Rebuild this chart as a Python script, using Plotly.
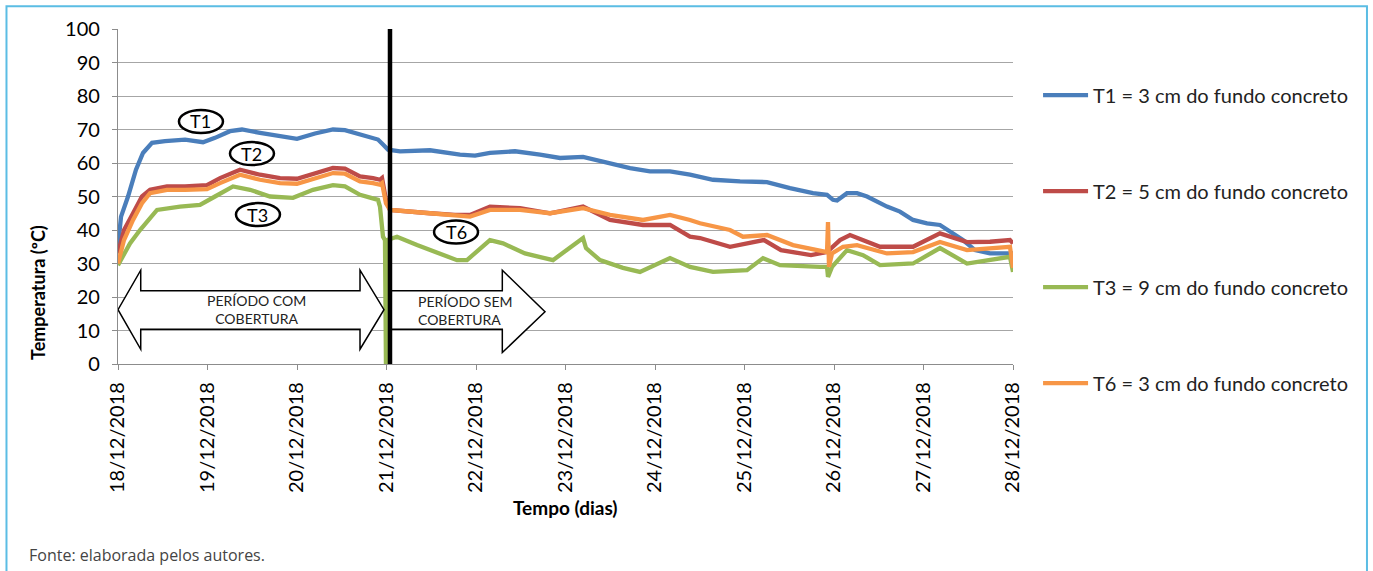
import plotly.graph_objects as go

# ---------------- data (days since 18/12/2018 00:00, temperature ºC) ----------------
date_labels = ["18/12/2018", "19/12/2018", "20/12/2018", "21/12/2018", "22/12/2018",
               "23/12/2018", "24/12/2018", "25/12/2018", "26/12/2018", "27/12/2018", "28/12/2018"]
y_ticks = [0, 10, 20, 30, 40, 50, 60, 70, 80, 90, 100]

t1_days = [0.0, 0.034, 0.112, 0.201, 0.279, 0.380, 0.525, 0.749, 0.950, 1.084, 1.251, 1.385,
           1.587, 1.810, 2.000, 2.201, 2.402, 2.536, 2.704, 2.905, 2.961, 3.017, 3.151, 3.486,
           3.821, 3.989, 4.156, 4.436, 4.715, 4.939, 5.196, 5.385, 5.721, 5.944, 6.168, 6.391,
           6.648, 6.950, 7.251, 7.508, 7.765, 7.922, 7.989, 8.034, 8.145, 8.257, 8.369, 8.592,
           8.737, 8.883, 9.039, 9.184, 9.318, 9.441, 9.575, 9.743, 10.0]
t1_vals = [35, 44, 50, 58, 63, 66, 66.5, 67, 66.2, 67.5, 69.5, 70,
           69, 68, 67.2, 68.8, 70, 69.8, 68.5, 67, 65.5, 64, 63.5, 63.8,
           62.5, 62.2, 63, 63.5, 62.5, 61.5, 61.8, 60.5, 58.5, 57.5, 57.5, 56.5,
           55, 54.5, 54.3, 52.5, 51, 50.5, 49, 48.8, 51, 51, 50, 47,
           45.5, 43, 42, 41.5, 39, 37, 34, 33, 33]

t2_days = [0.0, 0.067, 0.168, 0.268, 0.358, 0.547, 0.749, 0.994, 1.140, 1.363, 1.587, 1.810,
           2.000, 2.201, 2.402, 2.536, 2.704, 2.849, 2.927, 2.950, 2.994, 3.039, 3.151, 3.486,
           3.765, 3.933, 4.156, 4.492, 4.827, 5.196, 5.497, 5.866, 6.168, 6.391, 6.503, 6.838,
           7.218, 7.408, 7.743, 7.922, 8.067, 8.179, 8.514, 8.883, 9.184, 9.486, 9.743, 9.966, 10.0]
t2_vals = [33, 40, 45, 50, 52, 53, 53, 53.4, 55.5, 58, 56.5, 55.5,
           55.3, 57, 58.5, 58.3, 56, 55.5, 55, 55.5, 49, 46, 45.7, 45,
           44.5, 44.5, 47, 46.5, 45, 47, 43, 41.5, 41.5, 38, 37.6, 35,
           37, 34, 32.5, 33.4, 37, 38.5, 35, 35, 39, 36.4, 36.5, 37, 36]

t3_days = [0.0, 0.067, 0.134, 0.246, 0.436, 0.693, 0.916, 1.084, 1.285, 1.475, 1.698, 1.955,
           2.179, 2.402, 2.536, 2.704, 2.849, 2.905, 2.927, 2.961, 2.983, 2.994, 3.006, 3.117,
           3.341, 3.542, 3.788, 3.899, 4.156, 4.302, 4.547, 4.860, 5.196, 5.229, 5.385, 5.642,
           5.832, 6.168, 6.391, 6.648, 7.028, 7.207, 7.397, 7.844, 7.922, 7.933, 7.978, 8.145,
           8.324, 8.514, 8.883, 9.184, 9.486, 9.966, 10.0]
t3_vals = [29.5, 33, 36, 40, 46, 47, 47.5, 50, 53, 52, 50, 49.6,
           52, 53.4, 53, 50.5, 49.6, 49, 47, 38, 37, 0, 37, 38,
           35.5, 33.5, 31, 31, 37, 36, 33, 31, 37.6, 34.6, 31, 28.7,
           27.5, 31.6, 29, 27.5, 28, 31.6, 29.5, 29, 29, 26, 29, 34,
           32.5, 29.5, 30, 34.6, 30, 32, 27.5]

t6_days = [0.0, 0.067, 0.168, 0.268, 0.358, 0.547, 0.749, 0.994, 1.140, 1.363, 1.587, 1.810,
           2.000, 2.201, 2.402, 2.536, 2.704, 2.849, 2.927, 2.950, 2.994, 3.039, 3.151, 3.486,
           3.933, 4.156, 4.492, 4.827, 5.196, 5.497, 5.866, 6.168, 6.391, 6.503, 6.838, 6.983,
           7.251, 7.542, 7.922, 7.933, 7.944, 7.978, 8.101, 8.257, 8.592, 8.883, 9.184, 9.486,
           9.966, 10.0]
t6_vals = [30, 37, 43, 48, 51, 52, 52, 52.2, 54, 56.5, 55, 54,
           53.8, 55.5, 57, 56.8, 54.5, 54, 53.5, 54, 48, 46, 45.7, 45,
           44, 46, 46, 45, 46.5, 44.5, 43, 44.5, 43, 42, 40, 38,
           38.5, 35.5, 33.4, 42.4, 29, 33, 35, 35.5, 33, 33.4, 36.4, 34,
           35, 28.7]

series_names = ["T1 = 3 cm do fundo concreto", "T2 = 5 cm do fundo concreto",
                "T3 = 9 cm do fundo concreto", "T6 = 3 cm do fundo concreto"]
series_colors = ["#4A7EBB", "#BE4B48", "#98B954", "#F79646"]

cover_change_day = 3.039
labels_txt = ["T1", "T2", "T3", "T6"]
labels_day = [0.927, 1.497, 1.564, 3.777]
labels_val = [72.4, 62.8, 44.6, 39.4]

FONT = "Lato, 'Open Sans', sans-serif"

fig = go.Figure()
for i, (xs, ys) in enumerate([(t1_days, t1_vals), (t2_days, t2_vals),
                              (t3_days, t3_vals), (t6_days, t6_vals)]):
    fig.add_trace(go.Scatter(
        x=xs, y=ys, mode="lines", name=series_names[i],
        line=dict(color=series_colors[i], width=4.3),
        legendgroup=f"g{i}", showlegend=True,
    ))

shapes = []
shapes.append(dict(
    type="path", xref="x", yref="y", layer="above",
    path="M 0.0,16.2 L 0.254,28.0 L 0.254,21.9 L 2.704,21.9 L 2.704,28.0 L 2.972,16.2 "
         "L 2.704,4.4 L 2.704,10.4 L 0.254,10.4 L 0.254,4.4 Z",
    fillcolor="white", line=dict(color="black", width=1.5)))
shapes.append(dict(
    type="path", xref="x", yref="y", layer="above",
    path="M 3.04,21.9 L 4.294,21.9 L 4.294,28.0 L 4.771,15.6 L 4.294,3.4 L 4.294,10.4 L 3.04,10.4 Z",
    fillcolor="white", line=dict(color="black", width=1.5)))
shapes.append(dict(type="line", xref="x", yref="y", x0=cover_change_day, x1=cover_change_day,
                   y0=-1, y1=100.5, line=dict(color="black", width=4.5), layer="above"))
for d, v in zip(labels_day, labels_val):
    shapes.append(dict(type="circle", xref="x", yref="y", xsizemode="pixel", ysizemode="pixel",
                       xanchor=d, yanchor=v, x0=-22, x1=22, y0=-11.5, y1=11.5,
                       fillcolor="white", line=dict(color="black", width=2.5), layer="above"))
shapes.append(dict(type="rect", xref="paper", yref="paper",
                   x0=-0.1246, x1=1.3955, y0=-0.75, y1=1.068,
                   line=dict(color="#5BBDE4", width=2), fillcolor="rgba(0,0,0,0)"))

annotations = []
for t, d, v in zip(labels_txt, labels_day, labels_val):
    annotations.append(dict(x=d, y=v, xref="x", yref="y", text=t, showarrow=False,
                            xanchor="center", yanchor="middle",
                            font=dict(family=FONT, size=18, color="black")))
annotations.append(dict(x=1.542, y=16.2, xref="x", yref="y", text="PERÍODO COM<br>COBERTURA",
                        showarrow=False, align="center", xanchor="center", yanchor="middle",
                        font=dict(family=FONT, size=14, color="#222")))
annotations.append(dict(x=3.33, y=16.0, xref="x", yref="y", text="PERÍODO SEM<br>COBERTURA",
                        showarrow=False, align="left", xanchor="left", yanchor="middle",
                        font=dict(family=FONT, size=14, color="#222")))
annotations.append(dict(x=0.5, y=-0.427, xref="paper", yref="paper", text="<b>Tempo (dias)</b>",
                        showarrow=False, xanchor="center", yanchor="middle",
                        font=dict(family=FONT, size=19, color="black")))
annotations.append(dict(x=-0.0894, y=0.215, xref="paper", yref="paper",
                        text="<b>Temperatura (ºC)</b>", textangle=-90,
                        showarrow=False, xanchor="center", yanchor="middle",
                        font=dict(family=FONT, size=18, color="black")))
annotations.append(dict(x=-0.1017, y=-0.57, xref="paper", yref="paper", xanchor="left",
                        yanchor="middle",
                        text="Fonte: elaborada pelos autores.", showarrow=False,
                        font=dict(family="'Open Sans', sans-serif", size=16, color="#444")))

fig.update_layout(
    width=1373, height=571,
    margin=dict(l=118, r=360, t=29, b=207, autoexpand=False),
    paper_bgcolor="white", plot_bgcolor="white",
    shapes=shapes, annotations=annotations,
    showlegend=True,
    legend=dict(x=1.028, y=0.861, xanchor="left", yanchor="top",
                font=dict(family=FONT, size=20, color="#222"),
                itemwidth=45,
                tracegroupgap=67, bgcolor="rgba(0,0,0,0)"),
    xaxis=dict(range=[0, 10], tickvals=list(range(11)), ticktext=date_labels,
               tickangle=-90, showgrid=False, zeroline=False,
               showline=True, linecolor="#8c8c8c", linewidth=1.3,
               ticks="outside", ticklen=5, tickcolor="#8c8c8c", ticklabelstandoff=4,
               tickfont=dict(family=FONT, size=20, color="black"), automargin=False),
    yaxis=dict(range=[0, 100], tickvals=y_ticks, showgrid=True, gridcolor="#a6a6a6",
               gridwidth=1.3, zeroline=False, showline=True, linecolor="#8c8c8c",
               linewidth=1.3, ticks="outside", ticklen=5, tickcolor="#8c8c8c",
               ticklabelstandoff=8,
               tickfont=dict(family=FONT, size=20, color="black"), automargin=False),
)

fig.write_html("out.html", post_script="document.body.style.margin='0';",
               config={"displayModeBar": False})
